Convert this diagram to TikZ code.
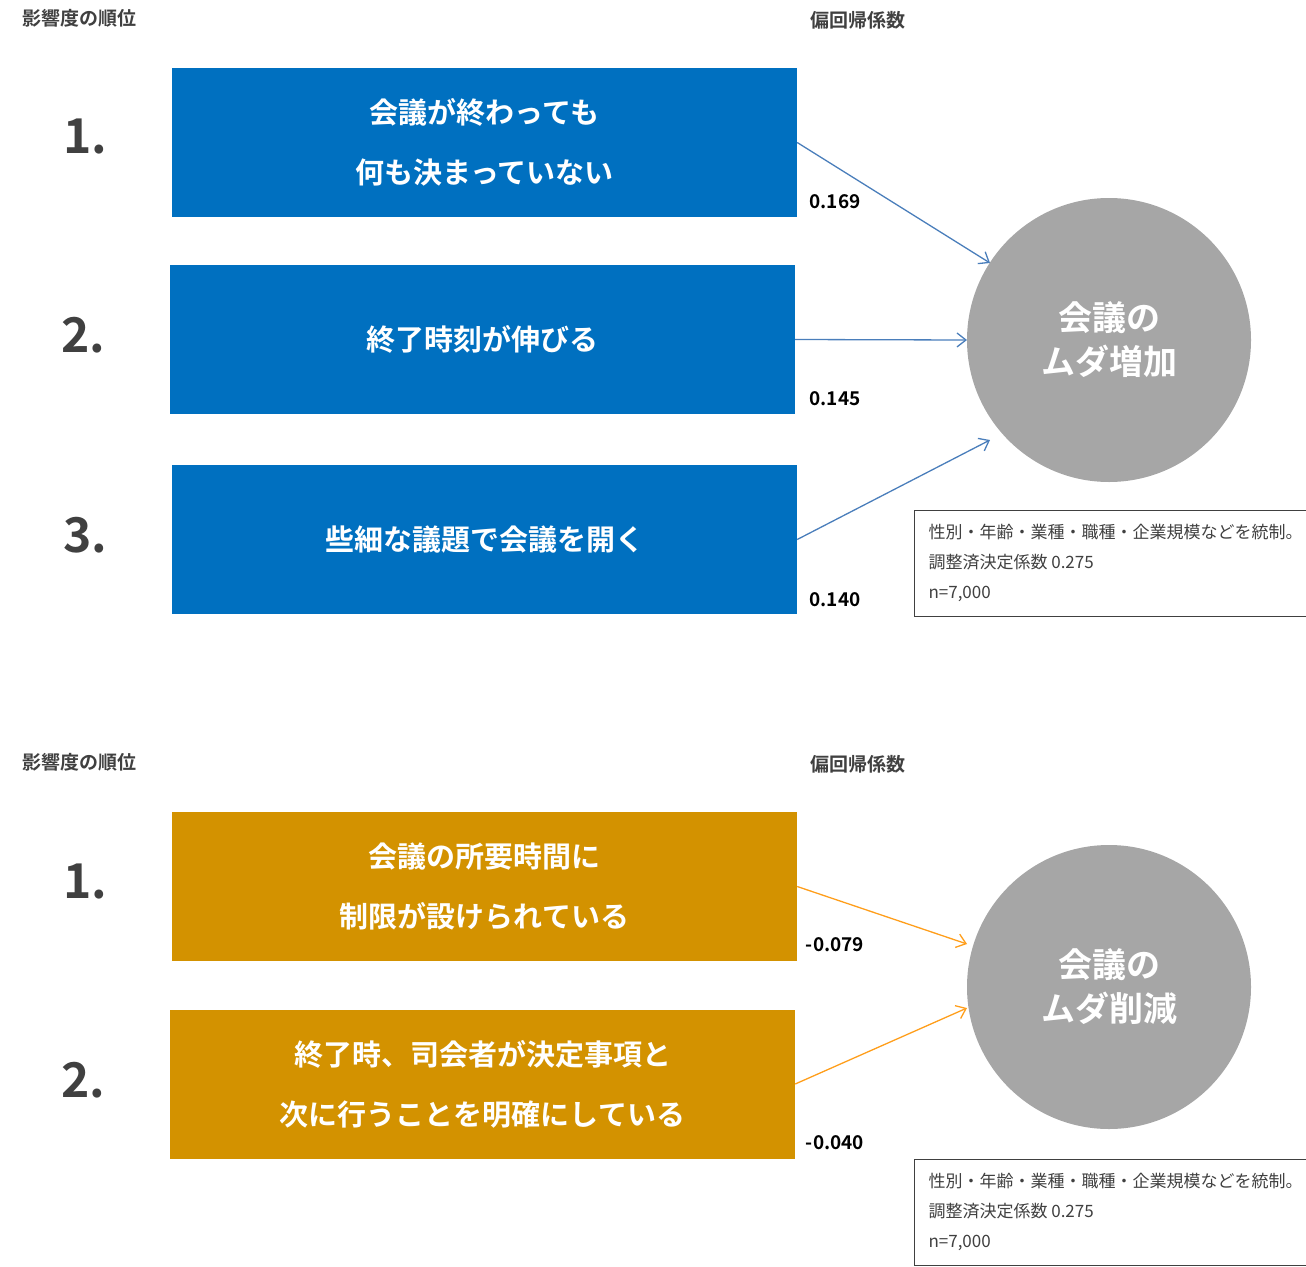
\documentclass[tikz,border=0pt]{standalone}
\usepackage{fontspec}
\setmainfont{Noto Sans CJK JP}[BoldFont={* Bold}]
\usetikzlibrary{arrows.meta}
\definecolor{boxblue}{HTML}{0070C0}
\definecolor{boxgold}{HTML}{D39200}
\definecolor{arrblue}{HTML}{4A7EBB}
\definecolor{arrgold}{HTML}{FF9E1B}
\definecolor{circgray}{HTML}{A6A6A6}
\definecolor{txtgray}{HTML}{404040}
\tikzset{
  factor/.style={minimum width=625pt, minimum height=149pt, inner sep=0pt, text=white, align=center,
    font=\fontsize{29}{60}\selectfont\bfseries},
  rank/.style={text=txtgray, font=\fontsize{48}{50}\selectfont\bfseries},
  head/.style={text=txtgray, font=\fontsize{19}{22}\selectfont\bfseries},
  coef/.style={font=\fontsize{19}{22}\selectfont\bfseries},
  target/.style={circle, fill=circgray, minimum size=284pt, inner sep=0pt, text=white, align=center,
    font=\fontsize{34}{44}\selectfont\bfseries},
  note/.style={draw=txtgray, line width=1pt, minimum width=390pt, minimum height=105pt, inner sep=14pt,
    align=left, text=txtgray, font=\fontsize{17}{30}\selectfont},
  link/.style={line width=1.3pt, -{Straight Barb[length=9pt,width=14pt]}}
}
\begin{document}
\begin{tikzpicture}[x=1pt,y=-1pt]
  \useasboundingbox (0,0) rectangle (1306,1266);
  % upper half
  \node[head] (hrank1) at (80,18) {影響度の順位};
  \node[head] (hcoef1) at (858,20) {偏回帰係数};
  \node[factor, fill=boxblue] (a1) at (484.5,142.5) {会議が終わっても\\何も決まっていない};
  \node[factor, fill=boxblue] (a2) at (482.5,339.5) {終了時刻が伸びる};
  \node[factor, fill=boxblue] (a3) at (484.5,539.5) {些細な議題で会議を開く};
  \node[rank] (r1) at (85,137) {1.};
  \node[rank] (r2) at (83,335) {2.};
  \node[rank] (r3) at (85,535) {3.};
  \node[target] (ta) at (1109,340) {会議の\\ムダ増加};
  \coordinate (ta1) at (990,263);
  \coordinate (ta2) at (967,340);
  \coordinate (ta3) at (990,440);
  \draw[link, arrblue] (a1.east) -- (ta1);
  \draw[link, arrblue] (a2.east) -- (ta2);
  \draw[link, arrblue] (a3.east) -- (ta3);
  \node[coef] (c1) at (835,202) {0.169};
  \node[coef] (c2) at (835,399) {0.145};
  \node[coef] (c3) at (835,600) {0.140};
  \node[note, anchor=north west] (na) at (914,510) {性別・年齢・業種・職種・企業規模などを統制。\\調整済決定係数 0.275\\n=7,000};
  % lower half
  \node[head] (hrank2) at (80,762) {影響度の順位};
  \node[head] (hcoef2) at (858,764) {偏回帰係数};
  \node[factor, fill=boxgold] (b1) at (484.5,886.5) {会議の所要時間に\\制限が設けられている};
  \node[factor, fill=boxgold] (b2) at (482.5,1084) {終了時、司会者が決定事項と\\次に行うことを明確にしている};
  \node[rank] (s1) at (85,882) {1.};
  \node[rank] (s2) at (83,1080) {2.};
  \node[target] (tb) at (1109,987) {会議の\\ムダ削減};
  \coordinate (tb1) at (967,944);
  \coordinate (tb2) at (967,1008);
  \draw[link, arrgold] (b1.east) -- (tb1);
  \draw[link, arrgold] (b2.east) -- (tb2);
  \node[coef] (d1) at (835,945) {-0.079};
  \node[coef] (d2) at (835,1143) {-0.040};
  \node[note, anchor=north west] (nb) at (914,1159) {性別・年齢・業種・職種・企業規模などを統制。\\調整済決定係数 0.275\\n=7,000};
\end{tikzpicture}
\end{document}
